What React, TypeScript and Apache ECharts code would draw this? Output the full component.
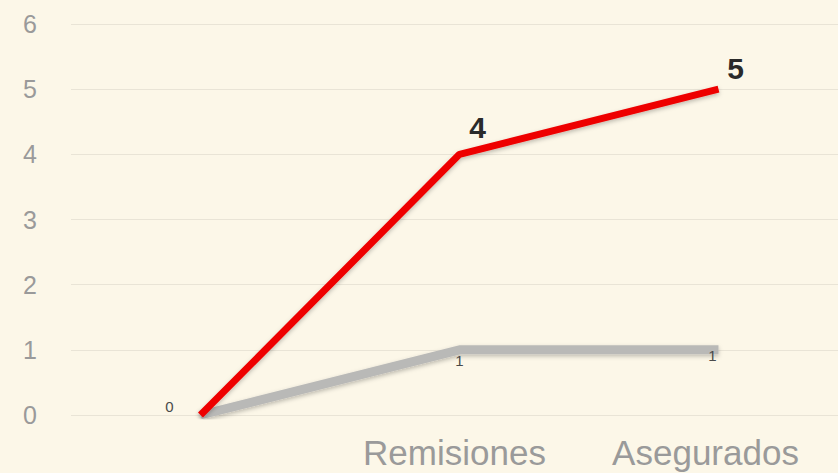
import React, { useEffect, useRef } from "react";
import * as echarts from "echarts";

const categories = ["", "Remisiones", "Asegurados"];
const redValues = [0, 4, 5];
const grayValues = [0, 1, 1];
const yTicks = [0, 1, 2, 3, 4, 5, 6];

export default function App() {
  const ref = useRef<HTMLDivElement>(null);
  useEffect(() => {
    document.body.style.margin = "0";
    const chart = echarts.init(ref.current!, undefined, { renderer: "svg" });
    chart.setOption({
      animation: false,
      backgroundColor: "#fcf7e8",
      grid: {
        left: 71,
        right: -10,
        top: 24,
        bottom: 58,
        outerBoundsMode: "none",
        containLabel: false,
      },
      xAxis: {
        type: "category",
        data: categories,
        boundaryGap: true,
        axisLine: { show: false },
        axisTick: { show: false },
        axisLabel: {
          interval: 0,
          hideOverlap: false,
          color: "#9a9a9a",
          fontSize: 35,
          fontFamily: "Liberation Sans, Arial, sans-serif",
          margin: 20,
          formatter: (v: string, i: number) =>
            i === 1 ? `{a|${v}}` : i === 2 ? `{b|${v}}` : v,
          rich: {
            a: {
              color: "#9a9a9a",
              fontSize: 35,
              fontFamily: "Liberation Sans, Arial, sans-serif",
              padding: [0, 10, 0, 0],
            },
            b: {
              color: "#9a9a9a",
              fontSize: 35,
              fontFamily: "Liberation Sans, Arial, sans-serif",
              padding: [0, 26, 0, 0],
            },
          },
        },
      },
      yAxis: {
        type: "value",
        min: yTicks[0],
        max: yTicks[yTicks.length - 1],
        interval: 1,
        axisLine: { show: false },
        axisTick: { show: false },
        splitLine: { lineStyle: { color: "#e9e4d6", width: 1 } },
        axisLabel: {
          color: "#9a9a9a",
          fontSize: 25,
          fontFamily: "Liberation Sans, Arial, sans-serif",
          margin: 34,
        },
      },
      series: [
        {
          type: "line",
          data: grayValues,
          symbol: "circle",
          symbolSize: 1,
          itemStyle: { color: "rgba(0,0,0,0)" },
          lineStyle: {
            color: "#b9b9b7",
            width: 9,
            shadowColor: "rgba(0,0,0,0.25)",
            shadowBlur: 4,
            shadowOffsetY: 2,
          },
          label: {
            show: true,
            position: "bottom",
            color: "#4a4a4a",
            fontSize: 15,
            fontFamily: "Liberation Sans, Arial, sans-serif",
          },
          labelLayout: (p: any) =>
            p.dataIndex === 0
              ? { dx: -31, dy: -22 }
              : p.dataIndex === 2
              ? { dx: -6, dy: -7 }
              : { dx: 0, dy: -2 },
          z: 2,
        },
        {
          type: "line",
          data: redValues,
          symbol: "circle",
          symbolSize: 1,
          itemStyle: { color: "rgba(0,0,0,0)" },
          lineStyle: {
            color: "#ee0000",
            width: 7,
            shadowColor: "rgba(0,0,0,0.25)",
            shadowBlur: 4,
            shadowOffsetY: 2,
          },
          label: {
            show: true,
            position: "top",
            color: "#2a2a2a",
            fontSize: 30,
            fontWeight: "bold",
            fontFamily: "Liberation Sans, Arial, sans-serif",
            formatter: (p: any) => (p.dataIndex === 0 ? "" : String(p.value)),
          },
          labelLayout: (p: any) =>
            p.dataIndex === 1 ? { dx: 18, dy: -6 } : { dx: 17, dy: 0 },
          z: 3,
        },
      ],
    });
    return () => chart.dispose();
  }, []);
  return (
    <div
      ref={ref}
      style={{ position: "fixed", left: 0, top: 0, width: 838, height: 473 }}
    />
  );
}
